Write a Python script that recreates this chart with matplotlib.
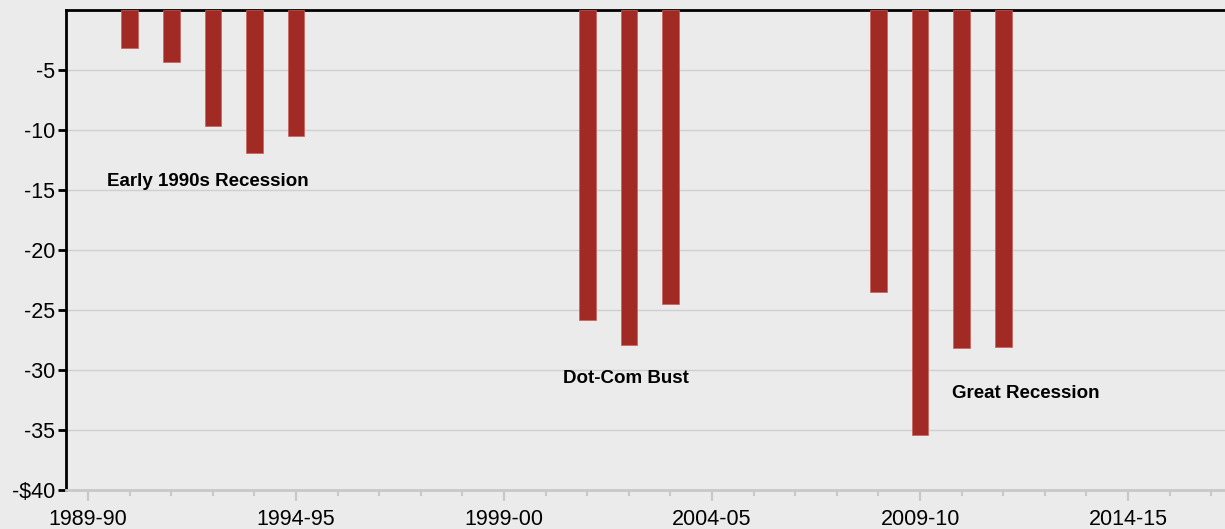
import matplotlib.pyplot as plt
import numpy as np

# budget problem by fiscal year (billions)
years = ['1990-91', '1991-92', '1992-93', '1993-94', '1994-95',
         '2001-02', '2002-03', '2003-04',
         '2008-09', '2009-10', '2010-11', '2011-12']
values = [-3.2, -4.3, -9.7, -11.9, -10.5,
          -25.8, -27.9, -24.5,
          -23.5, -35.4, -28.2, -28.1]

all_years = ['%d-%02d' % (y, (y + 1) % 100) for y in range(1989, 2017)]
tick_labels = ['1989-90', '1994-95', '1999-00', '2004-05', '2009-10', '2014-15']

notes = ['Early 1990s Recession', 'Dot-Com Bust', 'Great Recession']
note_pos = [(0.46, -14.3), (11.42, -30.7), (20.76, -32.0)]

BG = '#ebebeb'
BAR = '#a22a25'
GRID = '#cfcfcf'

plt.rcParams['font.family'] = ['Liberation Sans', 'DejaVu Sans']

fig = plt.figure(figsize=(12.25, 5.29), dpi=100, facecolor=BG)
ax = fig.add_axes([66 / 1225, 1 - 490 / 529, 1 - 66 / 1225, 480 / 529])
ax.set_facecolor(BG)

x = [all_years.index(y) for y in years]
ax.bar(x, values, width=0.4, color=BAR, edgecolor='#c9605a', linewidth=0.5, zorder=3)

ax.set_ylim(-40, 0)
ax.set_xlim(-0.53, 27.33)

ax.set_yticks(np.arange(-40, 0, 5))
ax.set_yticklabels(['-$40'] + [str(v) for v in range(-35, 0, 5)])
ax.yaxis.grid(True, color=GRID, linewidth=1, zorder=0)

ax.set_xticks([all_years.index(t) for t in tick_labels])
ax.set_xticklabels(tick_labels)
ax.set_xticks(range(len(all_years)), minor=True)

ax.spines['right'].set_visible(False)
ax.spines['left'].set_linewidth(2)
ax.spines['top'].set_linewidth(2)
ax.spines['bottom'].set_color('#c8c8c8')
ax.spines['bottom'].set_linewidth(2)

ax.tick_params(axis='y', length=6, width=2, color='black', labelsize=15.5, pad=2)
ax.tick_params(axis='x', which='major', length=8, width=1.5, color='#c8c8c8',
               labelsize=15.5, pad=6)
ax.tick_params(axis='x', which='minor', length=4, width=1.5, color='#c8c8c8')

for txt, (nx, ny) in zip(notes, note_pos):
    ax.text(nx, ny, txt, fontsize=13.5, fontweight='bold', ha='left', va='center', zorder=4)

fig.savefig('out.png', dpi=100, facecolor=BG)
